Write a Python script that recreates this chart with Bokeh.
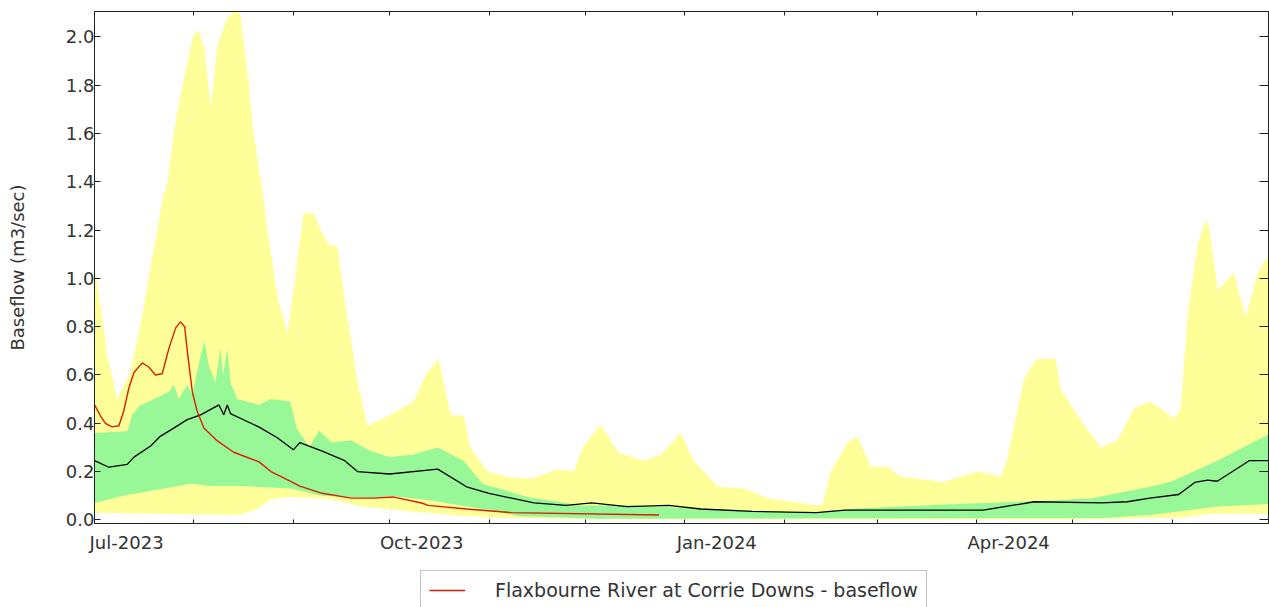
import numpy as np
import pandas as pd
from bokeh.plotting import figure
from bokeh.layouts import column
from bokeh.models import (Range1d, LinearAxis, DatetimeAxis, FixedTicker,
                          DatetimeTickFormatter, PrintfTickFormatter, Legend, LegendItem)
from bokeh.embed import file_html
from bokeh.resources import INLINE

START_DATE = "2023-07-01"
END_DATE = "2024-07-01"

# All x values are days since START_DATE; flows in m3/sec
# Historic maximum envelope (yellow band top)
max_day = [0, 1.9, 4.0, 7.1, 11.2, 15.4, 16.8, 19.6, 21.2, 22.8, 24.6, 27.4, 30.6, 32.4, 34.3,
           36.2, 38.4, 41.5, 44, 45.5, 48, 49.6, 52.7, 53.9, 57.1, 60.2, 65.2, 68.3, 70.5,
           73, 75.8, 77.6, 82, 85.1, 92.3, 99.5, 103.2, 107.3, 111, 115.1, 117.2, 122.5,
           129.7, 136, 144.4, 149.4, 152.2, 157.8, 163.1, 171.2, 176.5, 182.7, 186.8, 194.3,
           202.4, 209.9, 225.4, 227, 229.5, 230.4, 234.8, 237.9, 242, 247.3, 251.3,
           264.7, 275.3, 282.5, 284.5, 287.8, 289.7, 292.8, 294, 299.7, 301.2, 308.4,
           313.7, 319, 324, 328.7, 332.4, 336.5, 338.6, 340.8, 343.9, 346.4, 347.4,
           350.2, 354.2, 355.2, 358.9, 362.6, 365.2, 366]
max_flow = [1.05, 0.885, 0.68, 0.50, 0.61, 0.885, 1.00, 1.20, 1.33, 1.40, 1.60, 1.80, 2.00,
            2.03, 1.95, 1.71, 1.97, 2.08, 2.11, 2.09, 1.81, 1.60, 1.33, 1.20, 0.92, 0.77,
            1.27, 1.27, 1.20, 1.14, 1.13, 0.95, 0.57, 0.39, 0.435, 0.49, 0.60, 0.667, 0.435,
            0.43, 0.30, 0.20, 0.175, 0.17, 0.21, 0.20, 0.30, 0.395, 0.28, 0.245, 0.27, 0.36,
            0.245, 0.137, 0.13, 0.09, 0.06, 0.065, 0.20, 0.22, 0.32, 0.345, 0.22, 0.22, 0.18,
            0.157, 0.20, 0.18, 0.25, 0.46, 0.58, 0.65, 0.667, 0.667, 0.54, 0.395,
            0.30, 0.33, 0.46, 0.49, 0.46, 0.42, 0.46, 0.85, 1.14, 1.24, 1.22,
            0.95, 1.01, 1.02, 0.84, 1.02, 1.08, 1.08]

# Historic minimum envelope (yellow band bottom)
min_day = [0, 17, 45, 50, 55, 61, 74, 83, 95, 111, 127, 158, 314, 339, 348, 366]
min_flow = [0.03, 0.025, 0.02, 0.04, 0.085, 0.095, 0.085, 0.055, 0.04, 0.02, 0.008,
            0.003, 0.003, 0.01, 0.025, 0.025]

# 75th percentile (green band top)
p75_day = [0, 10.2, 11.8, 14.3, 16.9, 23.2, 24.7, 26.3, 28.9, 30.5, 33.1, 34.3, 35.6, 37.7,
           39.3, 40.1, 41.4, 42.4, 44.5, 51.3, 55, 61, 63, 67, 70, 74, 80, 86, 92, 99, 107,
           115, 121, 135, 152, 168, 189, 210, 225, 236, 267, 298, 311, 329, 336, 350, 358, 366]
p75_flow = [0.36, 0.367, 0.435, 0.476, 0.49, 0.53, 0.56, 0.50, 0.56, 0.52, 0.68, 0.74, 0.64,
            0.57, 0.71, 0.60, 0.71, 0.57, 0.50, 0.476, 0.50, 0.49, 0.38, 0.30, 0.37, 0.32,
            0.33, 0.285, 0.26, 0.27, 0.30, 0.245, 0.15, 0.095, 0.06, 0.06, 0.046, 0.035,
            0.03, 0.046, 0.065, 0.08, 0.09, 0.137, 0.16, 0.245, 0.30, 0.354]

# 25th percentile (green band bottom)
p25_day = [0, 9, 30, 36, 45, 53, 61, 71, 87, 92, 105, 121, 133, 158, 314, 329, 350, 366]
p25_flow = [0.07, 0.10, 0.15, 0.14, 0.14, 0.135, 0.13, 0.10, 0.09, 0.10, 0.08, 0.045,
            0.015, 0.005, 0.008, 0.02, 0.055, 0.066]

# Median (black line)
med_day = [0, 4.5, 10.2, 12.3, 17.5, 20.6, 24.7, 28.9, 33.1, 38.8, 40.3, 41.4, 42.4, 51.2,
           57, 62, 64, 71, 78, 82, 92, 107, 116, 123, 137, 147, 155, 166, 179, 189, 205,
           225, 234, 251, 277, 293, 314, 322, 329, 338, 343, 347, 350, 360, 366]
med_flow = [0.245, 0.218, 0.23, 0.26, 0.306, 0.347, 0.38, 0.415, 0.435, 0.476, 0.435, 0.476,
            0.44, 0.385, 0.34, 0.29, 0.32, 0.285, 0.245, 0.20, 0.19, 0.21, 0.137, 0.11, 0.07,
            0.06, 0.07, 0.055, 0.06, 0.045, 0.035, 0.03, 0.04, 0.04, 0.04, 0.075, 0.07,
            0.075, 0.09, 0.105, 0.155, 0.165, 0.16, 0.245, 0.245]

# Observed: Flaxbourne River at Corrie Downs - baseflow (red line)
obs_day = [0, 1.9, 3.4, 5.5, 7.6, 9.1, 10.7, 12.3, 14.9, 16.9, 19.0, 21.1, 23.2, 25.3, 26.8,
           28.1, 29.1, 30.5, 32.0, 34.1, 38.3, 43.4, 51.3, 55, 61, 64, 71, 80, 87, 93, 102,
           104, 116, 130, 176]
obs_flow = [0.476, 0.43, 0.40, 0.385, 0.39, 0.45, 0.545, 0.61, 0.65, 0.633, 0.60, 0.605,
            0.71, 0.795, 0.82, 0.80, 0.68, 0.53, 0.45, 0.38, 0.327, 0.28, 0.24, 0.20, 0.16,
            0.14, 0.11, 0.09, 0.09, 0.095, 0.07, 0.06, 0.045, 0.03, 0.02]
OBS_NAME = "Flaxbourne River at Corrie Downs - baseflow"

label_months = ["2023-07-01", "2023-10-01", "2024-01-01", "2024-04-01"]
y_ticks = [0.0, 0.2, 0.4, 0.6, 0.8, 1.0, 1.2, 1.4, 1.6, 1.8, 2.0]

# ---------------------------------------------------------------------------
t0 = pd.Timestamp(START_DATE)
t1 = pd.Timestamp(END_DATE)
DAY_MS = 86400000.0
T0_MS = t0.value / 1e6
LABEL_SHIFT_DAYS = 10  # month labels sit to the right of their tick, as in the source


def to_ms(days):
    return T0_MS + np.asarray(days, dtype=float) * DAY_MS


def dates_ms(ds, shift_days=0.0):
    return [pd.Timestamp(d).value / 1e6 + shift_days * DAY_MS for d in ds]


month_ticks = dates_ms(pd.date_range(START_DATE, END_DATE, freq="MS"))

FONT = "DejaVu Sans"
TXT = "#333333"
AX = "#222222"
YELLOW = "#FFFF99"
GREEN = "#98F898"
RED = "#D81E05"

p = figure(width=1269, height=556, x_axis_type=None, output_backend="svg",
           toolbar_location=None,
           x_range=Range1d(T0_MS, t1.value / 1e6), y_range=Range1d(-0.015, 2.105),
           min_border_left=94, min_border_top=11, min_border_right=1, min_border_bottom=33)
p.outline_line_color = None
p.grid.visible = False
p.background_fill_color = "white"
p.border_fill_color = "white"

p.patch(np.concatenate([to_ms(max_day), to_ms(min_day)[::-1]]),
        np.concatenate([np.array(max_flow), np.array(min_flow)[::-1]]),
        fill_color=YELLOW, line_color=None)
p.patch(np.concatenate([to_ms(p75_day), to_ms(p25_day)[::-1]]),
        np.concatenate([np.array(p75_flow), np.array(p25_flow)[::-1]]),
        fill_color=GREEN, line_color=None)
p.line(to_ms(med_day), med_flow, line_color="black", line_width=1.3)
p.line(to_ms(obs_day), obs_flow, line_color=RED, line_width=1.4)

fmt = "%b-%Y"


def month_formatter():
    return DatetimeTickFormatter(microseconds=fmt, milliseconds=fmt, seconds=fmt,
                                 minsec=fmt, minutes=fmt, hourmin=fmt, hours=fmt,
                                 days=fmt, months=fmt, years=fmt)


def tick_only_axis(cls, ticks, tick_len):
    return cls(ticker=FixedTicker(ticks=ticks), major_label_text_font_size="1px",
               major_label_text_color=None, major_label_standoff=0,
               major_tick_in=tick_len, major_tick_out=0, minor_tick_line_color=None,
               minor_tick_in=0, minor_tick_out=0,
               axis_line_color=AX, major_tick_line_color=AX)


# bottom: tick marks at every month start
p.add_layout(tick_only_axis(DatetimeAxis, month_ticks, 4), "below")
# bottom: quarterly month labels
bottom_labels = DatetimeAxis(ticker=FixedTicker(ticks=dates_ms(label_months, LABEL_SHIFT_DAYS)),
                             formatter=month_formatter(), axis_line_color=None,
                             major_tick_line_color=None, minor_tick_line_color=None,
                             major_tick_in=0, major_tick_out=0, minor_tick_in=0,
                             minor_tick_out=0,
                             major_label_text_font=FONT, major_label_text_font_size="18px",
                             major_label_text_color=TXT, major_label_standoff=8)
p.add_layout(bottom_labels, "below")

# left axis
ya = p.yaxis[0]
ya.ticker = FixedTicker(ticks=y_ticks)
ya.formatter = PrintfTickFormatter(format="%.1f")
ya.major_tick_in = 6
ya.major_tick_out = 0
ya.minor_tick_in = 0
ya.minor_tick_out = 0
ya.minor_tick_line_color = None
ya.axis_line_color = AX
ya.major_tick_line_color = AX
ya.major_label_text_font = FONT
ya.major_label_text_font_size = "18px"
ya.major_label_text_color = TXT
ya.major_label_standoff = 0
ya.axis_label = "Baseflow (m3/sec)"
ya.axis_label_text_font = FONT
ya.axis_label_text_font_size = "18px"
ya.axis_label_text_font_style = "normal"
ya.axis_label_text_color = TXT
ya.axis_label_standoff = 35

# mirrored right / top axes with inward ticks
p.add_layout(tick_only_axis(LinearAxis, y_ticks, 9), "right")
p.add_layout(tick_only_axis(DatetimeAxis, month_ticks, 4), "above")

# legend strip below the chart
q = figure(width=1269, height=51, x_axis_type=None, y_axis_type=None,
           x_range=Range1d(0, 1), y_range=Range1d(0, 1), output_backend="svg",
           toolbar_location=None, min_border=0)
q.outline_line_color = None
q.grid.visible = False
q.border_fill_color = "white"
q.background_fill_color = "white"
# renderer used only for the legend key; its points lie outside the strip's view
key_r = q.line(x=[-2, -1], y=[-2, -1], line_color=RED, line_width=1.4)
leg = Legend(items=[LegendItem(label=OBS_NAME, renderers=[key_r])], location=(326, -3),
             border_line_color="#8C8C8C", border_line_width=1, background_fill_color="white",
             background_fill_alpha=1.0, label_text_font=FONT, label_text_font_size="19px",
             label_text_color=TXT, glyph_width=36, glyph_height=20, label_standoff=30,
             padding=8, margin=0, spacing=0)
q.add_layout(leg)

layout = column(p, q, spacing=0)
open("out.html", "w").write(file_html(layout, INLINE))
